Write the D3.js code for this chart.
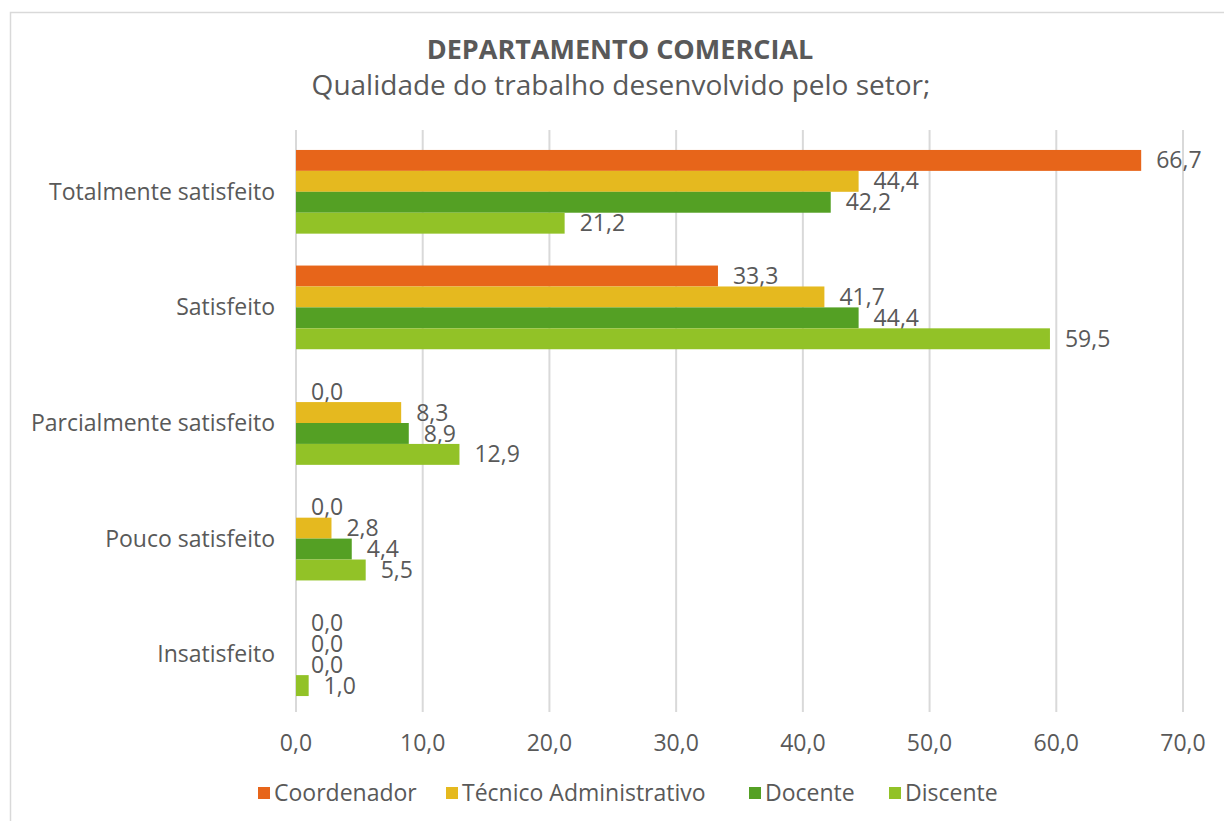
<!DOCTYPE html>
<html>
<head>
<meta charset="utf-8">
<script src="https://cdn.jsdelivr.net/npm/d3@7"></script>
<style>
  body { margin: 0; background: #fff; }
  text { font-family: "Open Sans", sans-serif; fill: #595959; }
</style>
</head>
<body>
<div id="chart"></div>
<script>
const categories = ["Totalmente satisfeito", "Satisfeito", "Parcialmente satisfeito", "Pouco satisfeito", "Insatisfeito"];
const seriesNames = ["Coordenador", "Técnico Administrativo", "Docente", "Discente"];
const seriesColors = ["#e7651a", "#e5b91f", "#54a024", "#92c227"];
const coordenador = [66.7, 33.3, 0.0, 0.0, 0.0];
const tecnico = [44.4, 41.7, 8.3, 2.8, 0.0];
const docente = [42.2, 44.4, 8.9, 4.4, 0.0];
const discente = [21.2, 59.5, 12.9, 5.5, 1.0];
const xTicks = [0, 10, 20, 30, 40, 50, 60, 70];

const series = [coordenador, tecnico, docente, discente];

const width = 1224;
const height = 821;
const plot = { left: 296, right: 1183, top: 134, bottom: 712 };

const fmt = v => v.toFixed(1).replace(".", ",");

const svg = d3.select("#chart")
    .append("svg")
    .attr("width", width)
    .attr("height", height);

// outer chart border
svg.append("rect")
    .attr("x", 10.5).attr("y", 12.5)
    .attr("width", width).attr("height", height)
    .attr("fill", "none")
    .attr("stroke", "#d9d9d9")
    .attr("stroke-width", 1.5);

// title
svg.append("text")
    .attr("x", 620).attr("y", 59)
    .attr("text-anchor", "middle")
    .attr("font-size", 27)
    .attr("font-weight", "bold")
    .text("DEPARTAMENTO COMERCIAL");

svg.append("text")
    .attr("x", 621).attr("y", 95)
    .attr("text-anchor", "middle")
    .attr("font-size", 28)
    .text("Qualidade do trabalho desenvolvido pelo setor;");

const x = d3.scaleLinear()
    .domain([0, 70])
    .range([plot.left, plot.right]);

const y = d3.scaleBand()
    .domain(categories)
    .range([plot.top, plot.bottom])
    .paddingInner(0.276)
    .paddingOuter(0.138);

const ySub = d3.scaleBand()
    .domain(d3.range(series.length))
    .range([0, y.bandwidth()]);

// vertical gridlines
svg.append("g")
    .selectAll("line")
    .data(xTicks)
    .enter()
    .append("line")
    .attr("x1", d => x(d)).attr("x2", d => x(d))
    .attr("y1", 130).attr("y2", plot.bottom)
    .attr("stroke", "#d9d9d9")
    .attr("stroke-width", 2);

// x tick labels
svg.append("g")
    .selectAll("text")
    .data(xTicks)
    .enter()
    .append("text")
    .attr("x", d => x(d))
    .attr("y", 751)
    .attr("text-anchor", "middle")
    .attr("font-size", 23)
    .text(d => fmt(d));

// category labels
svg.append("g")
    .selectAll("text")
    .data(categories)
    .enter()
    .append("text")
    .attr("x", 275)
    .attr("y", d => y(d) + y.bandwidth() / 2)
    .attr("dy", ".35em")
    .attr("text-anchor", "end")
    .attr("font-size", 23)
    .text(d => d);

// bars
const groups = svg.selectAll("g.series")
    .data(series)
    .enter()
    .append("g")
    .classed("series", true);

groups.selectAll("rect")
    .data((vals, si) => vals.map((v, ci) => ({ v, si, ci })))
    .enter()
    .append("rect")
    .attr("x", x(0))
    .attr("y", d => y(categories[d.ci]) + ySub(d.si))
    .attr("width", d => x(d.v) - x(0))
    .attr("height", ySub.bandwidth())
    .attr("fill", d => seriesColors[d.si]);

groups.selectAll("text")
    .data((vals, si) => vals.map((v, ci) => ({ v, si, ci })))
    .enter()
    .append("text")
    .attr("x", d => x(d.v) + 15)
    .attr("y", d => y(categories[d.ci]) + ySub(d.si) + ySub.bandwidth() / 2)
    .attr("dy", ".35em")
    .attr("font-size", 23)
    .text(d => fmt(d.v));

// legend
const legendX = [258, 446, 749, 889];
const legend = svg.selectAll("g.legend")
    .data(seriesNames)
    .enter()
    .append("g")
    .classed("legend", true)
    .attr("transform", (d, i) => `translate(${legendX[i]},793)`);

legend.append("rect")
    .attr("x", 0).attr("y", -6)
    .attr("width", 12).attr("height", 12)
    .attr("fill", (d, i) => seriesColors[i]);

legend.append("text")
    .attr("x", 16)
    .attr("dy", ".35em")
    .attr("font-size", 23)
    .text(d => d);
</script>
</body>
</html>
